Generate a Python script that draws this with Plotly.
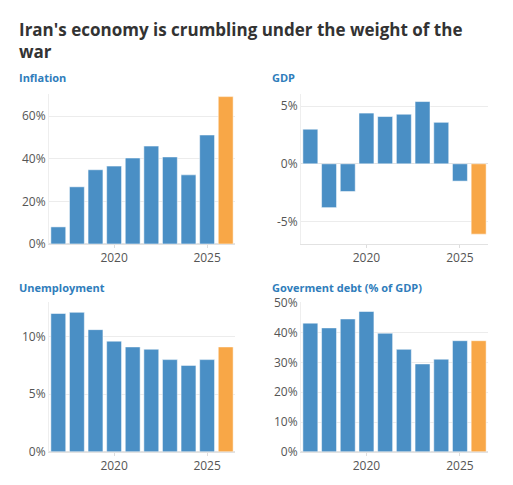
import plotly.graph_objects as go

years = [2017, 2018, 2019, 2020, 2021, 2022, 2023, 2024, 2025, 2026]
inflation = [8.0, 26.8, 34.8, 36.5, 40.3, 45.9, 40.8, 32.4, 51.1, 69.1]
gdp = [3.0, -3.8, -2.4, 4.4, 4.1, 4.3, 5.4, 3.6, -1.5, -6.1]
unemployment = [12.0, 12.1, 10.6, 9.6, 9.1, 8.9, 8.0, 7.5, 8.0, 9.1]
debt = [43.2, 41.6, 44.6, 47.1, 39.8, 34.4, 29.5, 31.1, 37.3, 37.3]

panels = [
    ("Inflation", inflation, [0, 70.3], [0, 20, 40, 60]),
    ("GDP", gdp, [-6.95, 6.05], [-5, 0, 5]),
    ("Unemployment", unemployment, [0, 13], [0, 5, 10]),
    ("Goverment debt (% of GDP)", debt, [0, 50.3], [0, 10, 20, 30, 40, 50]),
]

W, H = 513, 485
xdoms = [[49 / W, 235 / W], [301 / W, 488 / W]]
ydoms = [[1 - 244 / H, 1 - 89 / H], [1 - 459 / H, 1 - 304 / H]]
title_x = [17, 270]
title_y = [72, 289]

blue = "#4a8fc5"
orange = "#f8a747"
font = "Open Sans"

fig = go.Figure()
layout = dict(
    width=W, height=H,
    margin=dict(l=0, r=0, t=0, b=0),
    paper_bgcolor="white", plot_bgcolor="white",
    showlegend=False, bargap=0.2,
    font=dict(family=font, color="#555", size=12),
    annotations=[],
)

for i, (name, vals, rng, ticks) in enumerate(panels):
    row, col = divmod(i, 2)
    n = str(i + 1) if i else ""
    colors = [blue] * (len(vals) - 1) + [orange]
    fig.add_bar(x=years, y=vals, marker=dict(color=colors, line=dict(color="rgba(255,255,255,0.5)", width=1)),
                xaxis="x" + n, yaxis="y" + n)
    layout["xaxis" + n] = dict(
        domain=xdoms[col], anchor="y" + n, range=[2016.5, 2026.5],
        tickvals=[2020, 2025], ticks="outside", ticklen=3, tickcolor="#ddd",
        showline=True, linecolor="#e2e2e2", showgrid=False, zeroline=False,
        tickfont=dict(size=12, color="#555"),
    )
    layout["yaxis" + n] = dict(
        domain=ydoms[row], anchor="x" + n, range=rng,
        tickvals=ticks, ticktext=[f"{t}%" for t in ticks],
        showline=True, linecolor="#eee", gridcolor="#ececec", gridwidth=1,
        zeroline=True, zerolinecolor="#e2e2e2", zerolinewidth=1,
        tickfont=dict(size=12, color="#555"),
    )
    layout["annotations"].append(dict(
        text="<b>" + name + "</b>", xref="paper", yref="paper",
        x=title_x[col] / W, y=1 - title_y[row] / H, xanchor="left", yanchor="middle",
        showarrow=False, font=dict(size=11, color="#2f7dbb", family=font),
    ))

layout["annotations"].append(dict(
    text="<b>Iran's economy is crumbling under the weight of the<br>war</b>",
    xref="paper", yref="paper", x=17 / W, y=1 - 8 / H, xanchor="left", yanchor="top",
    align="left", showarrow=False, font=dict(size=17, color="#333", family=font),
))

fig.update_layout(**layout)
fig.write_html("out.html", config={"displayModeBar": False},
               post_script="document.body.style.margin='0';")
